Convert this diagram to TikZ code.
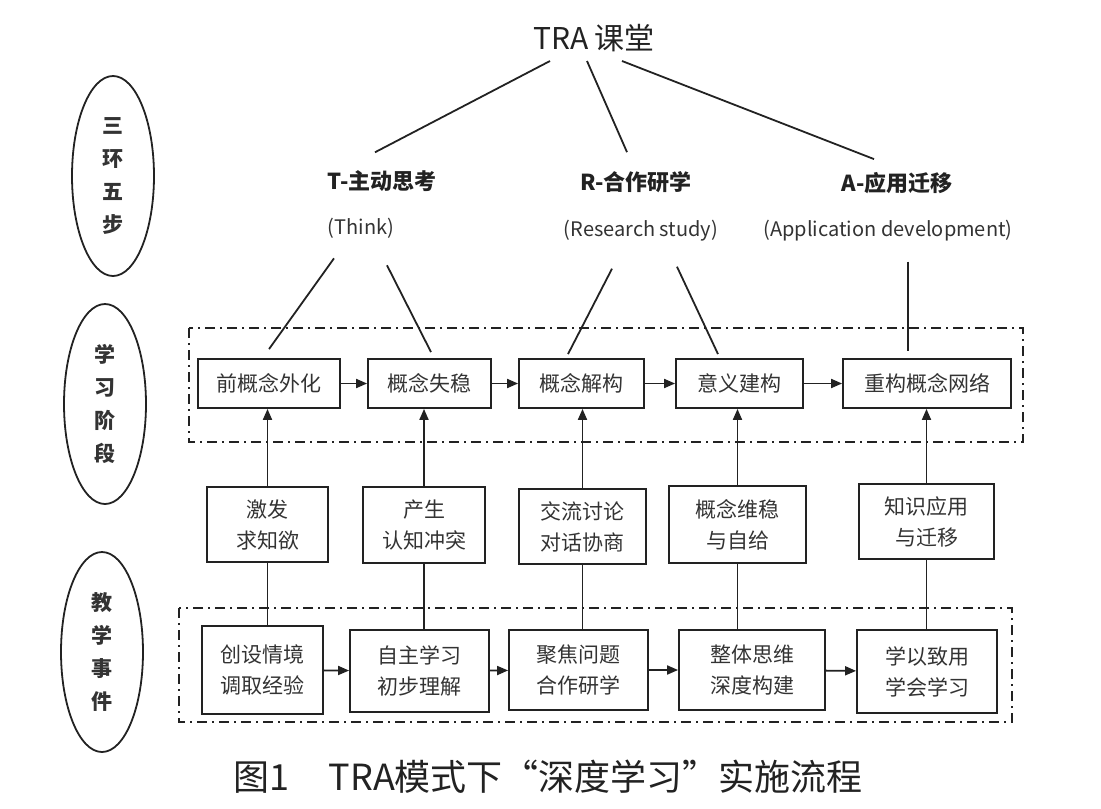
\documentclass[tikz,border=0pt]{standalone}
\usepackage{fontspec}
\setmainfont{Noto Sans CJK SC}
\usetikzlibrary{arrows.meta,shapes.geometric}

\definecolor{ink}{HTML}{222222}
\definecolor{txt}{HTML}{333333}

\begin{document}
\begin{tikzpicture}[x=1pt, y=-1pt, >={Triangle[length=11pt,width=9pt]},
  every node/.style={text=txt, inner sep=0pt},
  stagebox/.style={draw=ink, line width=1.8pt, minimum height=49pt, font=\fontsize{21}{31}\selectfont},
  eventbox/.style={draw=ink, line width=1.8pt, align=center, font=\fontsize{21}{31}\selectfont},
  ring/.style={draw=ink, line width=1.8pt, ellipse, minimum width=82pt, minimum height=200pt, align=center, font=\fontsize{21}{33}\selectfont\bfseries},
  headline/.style={font=\fontsize{22}{26}\selectfont\bfseries, text=ink},
  subline/.style={font=\fontsize{20}{24}\selectfont},
  link/.style={draw=ink, line width=1.8pt},
  dashframe/.style={draw=ink, line width=1.9pt, dash pattern=on 10pt off 5pt on 2pt off 5pt}]
  \useasboundingbox (0,0) rectangle (1101,809);

  % Left labels
  \node[ring] (ringA) at (113,176) {三\\环\\五\\步};
  \node[ring] (ringB) at (105,404) {学\\习\\阶\\段};
  \node[ring] (ringC) at (102,652) {教\\学\\事\\件};

  % Title and the three stages
  \node[font=\fontsize{30}{34}\selectfont, text=ink] (title) at (594,38) {TRA 课堂};
  \node[headline] (thead) at (382,181) {T-主动思考};
  \node[headline] (rhead) at (636,182) {R-合作研学};
  \node[headline] (ahead) at (897,183) {A-应用迁移};
  \node[subline] (think) at (361,228) {(Think)};
  \node[subline] (research) at (641,231) {(Research study)};
  \node[subline] (apply) at (888,231) {(Application development)};

  \draw[link] ([xshift=-44pt,yshift=-9pt]title.south) -- ([xshift=-7pt,yshift=18pt]thead.north);
  \draw[link] ([xshift=-7pt,yshift=-9pt]title.south) -- ([xshift=-9pt,yshift=19pt]rhead.north);
  \draw[link] ([xshift=28pt,yshift=-9pt]title.south) -- ([xshift=-23pt,yshift=13pt]ahead.north);

  % Learning stages
  \draw[dashframe] (189,328) rectangle (1023,442);
  \node[stagebox, minimum width=142pt] (pre) at (269,383.5) {前概念外化};
  \node[stagebox, minimum width=123pt] (lose) at (429.5,383.5) {概念失稳};
  \node[stagebox, minimum width=125pt] (decon) at (581.5,383.5) {概念解构};
  \node[stagebox, minimum width=127pt] (mean) at (739.5,383.5) {意义建构};
  \node[stagebox, minimum width=168pt] (net) at (927,383.5) {重构概念网络};
  \draw[link,->] (pre) -- (lose);
  \draw[link,->] (lose) -- (decon);
  \draw[link,->] (decon) -- (mean);
  \draw[link,->] (mean) -- (net);

  \draw[link] ([xshift=-27pt,yshift=-20pt]think.south) -- ([yshift=9pt]pre.north);
  \draw[link] ([xshift=26pt,yshift=-27pt]think.south) -- ([xshift=1.5pt,yshift=6pt]lose.north);
  \draw[link] ([xshift=-29pt,yshift=-27pt]research.south) -- ([xshift=-13.5pt,yshift=4pt]decon.north);
  \draw[link] ([xshift=36pt,yshift=-25pt]research.south) -- ([xshift=-21.5pt,yshift=4pt]mean.north);
  \draw[link] ([xshift=20pt,yshift=-20pt]apply.south) -- ([xshift=-19pt,yshift=7pt]net.north);

  % Middle links
  \node[eventbox, minimum width=121pt, minimum height=75pt] (arouse) at (267.5,524.5) {激发\\求知欲};
  \node[eventbox, minimum width=122pt, minimum height=76pt] (clash) at (424,525) {产生\\认知冲突};
  \node[eventbox, minimum width=127pt, minimum height=75pt] (talk) at (582.5,526.5) {交流讨论\\对话协商};
  \node[eventbox, minimum width=137pt, minimum height=77pt] (keep) at (737.5,524.5) {概念维稳\\与自给};
  \node[eventbox, minimum width=135pt, minimum height=75pt] (use) at (926.5,521.5) {知识应用\\与迁移};

  % Teaching events
  \draw[dashframe] (179,608) rectangle (1012,722);
  \node[eventbox, minimum width=121pt, minimum height=88pt] (scene) at (262.5,670) {创设情境\\调取经验};
  \node[eventbox, minimum width=139pt, minimum height=82pt] (self) at (419.5,671) {自主学习\\初步理解};
  \node[eventbox, minimum width=139pt, minimum height=80pt] (focus) at (578.5,670) {聚焦问题\\合作研学};
  \node[eventbox, minimum width=146pt, minimum height=80pt] (whole) at (752,670) {整体思维\\深度构建};
  \node[eventbox, minimum width=140pt, minimum height=83pt] (apply2) at (927,671.5) {学以致用\\学会学习};
  \draw[link,->] (scene) -- (self);
  \draw[link,->] (self) -- (focus);
  \draw[link,->] (focus) -- (whole);
  \draw[link,->] (whole) -- (apply2);

  % Vertical links between rows
  \foreach \mid/\top/\bot in {arouse/pre/scene, clash/lose/self, talk/decon/focus, keep/mean/whole, use/net/apply2} {
    \draw[link,->] (\mid.north) -- (\mid.north |- \top.south);
    \draw[link] (\mid.south) -- (\mid.south |- \bot.north);
  }

  % Caption
  \node[font=\fontsize{36}{40}\selectfont, text=ink] (caption) at (548,777) {图1\hspace{1.1em}TRA模式下“深度学习”实施流程};
\end{tikzpicture}
\end{document}
